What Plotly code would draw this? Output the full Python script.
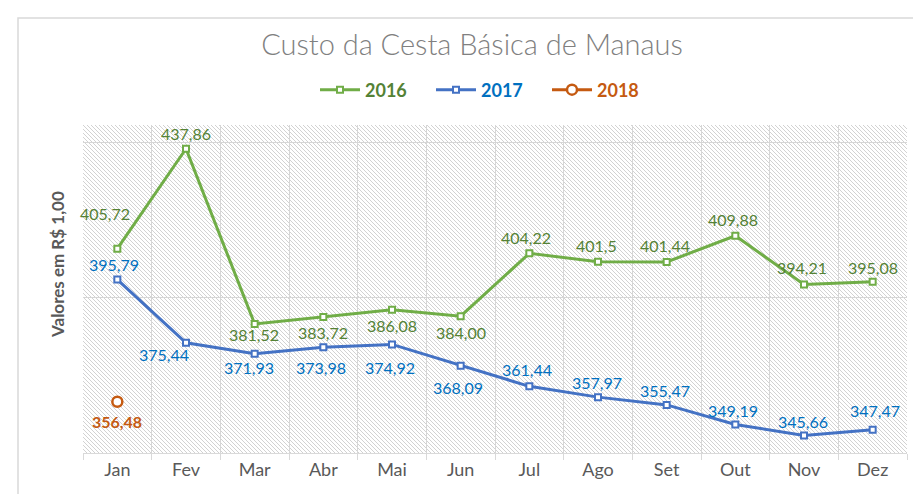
import base64
import plotly.graph_objects as go

months = ["Jan", "Fev", "Mar", "Abr", "Mai", "Jun", "Jul", "Ago", "Set", "Out", "Nov", "Dez"]
v2016 = [405.72, 437.86, 381.52, 383.72, 386.08, 384.00, 404.22, 401.5, 401.44, 409.88, 394.21, 395.08]
v2017 = [395.79, 375.44, 371.93, 373.98, 374.92, 368.09, 361.44, 357.97, 355.47, 349.19, 345.66, 347.47]
months2018 = ["Jan"]
v2018 = [356.48]

lbl2016 = ["405,72", "437,86", "381,52", "383,72", "386,08", "384,00", "404,22", "401,5", "401,44", "409,88", "394,21", "395,08"]
lbl2017 = ["395,79", "375,44", "371,93", "373,98", "374,92", "368,09", "361,44", "357,97", "355,47", "349,19", "345,66", "347,47"]
lbl2018 = ["356,48"]

# label offsets (style) in px
off2016 = [(-12, 35), (0, 15), (-1, -11), (0, -15), (0, -16), (0, -16), (-3, 16), (-2, 16), (-2, 16), (-2, 16), (-2, 17), (0, 14)]
off2017 = [(-3, 15), (-22, -12), (-6, -14), (-2, -20), (-2, -23), (-3, -22), (-2, 17), (-1, 15), (-2, 14), (-2, 14), (-1, 14), (2, 19)]
off2018 = [(0, -20)]

# page body has an 8px margin: lay out in page coords minus 8
OFF = 8
W, H = 921 - OFF, 494 - OFF
L, T = 83 - OFF, 125 - OFF
PR, PB = 907 - OFF, 453 - OFF
R, B = W - PR, H - PB
PW, PH = PR - L, PB - T

FONT = "Lato"
GREEN, GREEN_T = "#70AD47", "#548235"
BLUE, BLUE_T = "#4472C4", "#0070C0"
ORANGE = "#C55A11"
GRID = "#D6D6D6"

svg = (
    f"<svg xmlns='http://www.w3.org/2000/svg' width='{PW}' height='{PH}' shape-rendering='crispEdges'>"
    "<defs><pattern id='p' x='0' y='0' width='4' height='4' patternUnits='userSpaceOnUse'>"
    "<rect x='0' y='0' width='1' height='1' fill='#d2d2d2'/>"
    "<rect x='1' y='1' width='1' height='1' fill='#d2d2d2'/>"
    "<rect x='2' y='2' width='1' height='1' fill='#d2d2d2'/>"
    "<rect x='3' y='3' width='1' height='1' fill='#d2d2d2'/>"
    "</pattern></defs><rect width='100%' height='100%' fill='white'/>"
    "<rect width='100%' height='100%' fill='url(#p)'/></svg>"
)
img = "data:image/svg+xml;base64," + base64.b64encode(svg.encode()).decode()

fig = go.Figure()
fig.add_trace(go.Scatter(
    x=months, y=v2016, mode="lines+markers",
    name=f"<span style='color:{GREEN_T}'><b>2016</b></span>",
    line=dict(color=GREEN, width=3),
    marker=dict(symbol="square", size=6, color="white", line=dict(color=GREEN, width=2)),
))
fig.add_trace(go.Scatter(
    x=months, y=v2017, mode="lines+markers",
    name=f"<span style='color:{BLUE_T}'><b>2017</b></span>",
    line=dict(color=BLUE, width=3),
    marker=dict(symbol="square", size=6, color="white", line=dict(color=BLUE, width=2)),
))
fig.add_trace(go.Scatter(
    x=months2018, y=v2018, mode="lines+markers",
    name=f"<span style='color:{ORANGE}'><b>2018</b></span>",
    line=dict(color=ORANGE, width=3),
    marker=dict(symbol="circle", size=10, color="white", line=dict(color=ORANGE, width=2.5)),
))

annotations = []
for xs, vs, ls, offs, col, bold in [
    (months, v2016, lbl2016, off2016, GREEN_T, False),
    (months, v2017, lbl2017, off2017, BLUE_T, False),
    (months2018, v2018, lbl2018, off2018, ORANGE, True),
]:
    for x, v, t, (dx, dy) in zip(xs, vs, ls, offs):
        annotations.append(dict(
            x=x, y=v, xref="x", yref="y", text=f"<b>{t}</b>" if bold else t,
            showarrow=False, xshift=dx, yshift=dy,
            font=dict(family=FONT, size=16, color=col),
        ))

annotations.append(dict(
    text="<b>Valores em R$ 1,00</b>", textangle=-90, showarrow=False,
    xref="paper", yref="paper", x=(57 - OFF - L) / PW, y=(PB - (265 - OFF)) / PH,
    xanchor="center", yanchor="middle",
    font=dict(family=FONT, size=17, color="#595959"),
))

shapes = []
for m in months:
    shapes.append(dict(type="line", xref="x", yref="y domain", x0=m, x1=m, y0=0, y1=1,
                       line=dict(color=GRID, width=1), layer="below"))
shapes.append(dict(type="rect", xref="paper", yref="paper",
                   x0=(18 - OFF - L) / PW, x1=(930 - L) / PW,
                   y0=(PB - 510) / PH, y1=(PB - (18 - OFF)) / PH,
                   line=dict(color="#D9D9D9", width=1.5), layer="below"))

fig.update_layout(
    width=W, height=H,
    margin=dict(l=L, r=R, t=T, b=B, autoexpand=False),
    paper_bgcolor="white",
    plot_bgcolor="rgba(0,0,0,0)",
    title=dict(text="Custo da Cesta Básica de Manaus", x=(472 - OFF) / W, xanchor="center",
               y=1 - (45 - OFF) / H, yanchor="middle", xref="container", yref="container",
               font=dict(family=FONT, size=29, color="#808080", weight=300)),
    legend=dict(orientation="h", x=(489 - OFF - L) / PW, xanchor="center",
                y=(PB - (90 - OFF)) / PH, yanchor="middle",
                font=dict(family=FONT, size=18), bgcolor="rgba(0,0,0,0)",
                itemwidth=40, entrywidth=61, tracegroupgap=0),
    showlegend=True,
    xaxis=dict(type="category", range=[-0.5, 11.5], tickson="boundaries", ticks="outside",
               ticklen=6, tickcolor="#D9D9D9", showline=True, linecolor="#D9D9D9", linewidth=1,
               showgrid=True, gridcolor=GRID, gridwidth=1, automargin=False,
               tickfont=dict(family=FONT, size=18, color="#595959"), fixedrange=True),
    yaxis=dict(range=[340, 445.5], tick0=340, dtick=50, showticklabels=False,
               showgrid=True, gridcolor=GRID, gridwidth=1, zeroline=False, showline=False,
               ticks="", automargin=False),
    images=[dict(source=img, xref="x domain", yref="y domain", x=0, y=1, sizex=1, sizey=1,
                 xanchor="left", yanchor="top", sizing="stretch", layer="below")],
    annotations=annotations,
    shapes=shapes,
)

fig.write_html("out.html")
